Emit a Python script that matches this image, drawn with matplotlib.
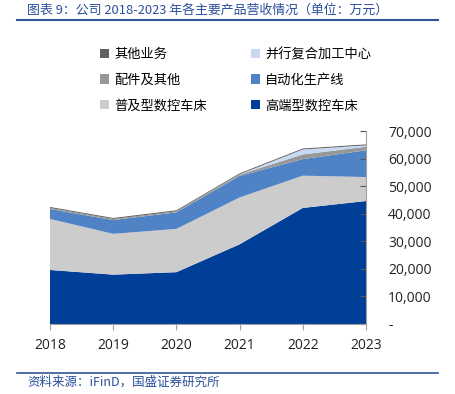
import matplotlib.pyplot as plt
from matplotlib.patches import Patch
from matplotlib.lines import Line2D

plt.rcParams['font.family'] = ['Noto Sans CJK SC', 'DejaVu Sans']

years = ['2018', '2019', '2020', '2021', '2022', '2023']
high_end = [19600, 17900, 18800, 28900, 42100, 44600]
standard = [18500, 14800, 15700, 17000, 11700, 8700]
automation = [3600, 5000, 6000, 7800, 6000, 9700]
parts = [400, 400, 400, 500, 1700, 1300]
compound = [0, 0, 0, 100, 1800, 500]
other = [350, 350, 350, 350, 350, 350]

names = ['高端型数控车床', '普及型数控车床', '自动化生产线',
         '配件及其他', '并行复合加工中心', '其他业务']
colors = ['#003F97', '#CCCCCC', '#4F83C6', '#989898', '#C6D9F0', '#606060']

fig = plt.figure(figsize=(4.56, 3.94), dpi=100)
ax = fig.add_axes([50 / 456, 1 - 324 / 394, 316 / 456, 193 / 394])

x = list(range(len(years)))
ax.stackplot(x, high_end, standard, automation, parts, compound, other,
             colors=colors, linewidth=0)

ax.set_xlim(0, len(years) - 1)
ax.set_ylim(0, 70000)
ax.set_xticks(x)
ax.set_xticklabels(years)
yt = list(range(0, 70001, 10000))
ax.set_yticks(yt)
ax.set_yticklabels(['-'] + [f'{v:,}' for v in yt[1:]])

ax.yaxis.tick_right()
for s in ['top', 'left']:
    ax.spines[s].set_visible(False)
for s in ['bottom', 'right']:
    ax.spines[s].set_color('#A0A0A0')
    ax.spines[s].set_linewidth(0.8)
ax.tick_params(axis='x', direction='out', length=4, color='#A0A0A0',
               labelsize=10, pad=6, labelcolor='#222222')
ax.tick_params(axis='y', direction='in', length=4, color='#555555',
               labelsize=10, pad=16, labelcolor='#222222')
for lab in ax.get_xticklabels() + ax.get_yticklabels():
    lab.set_fontfamily(['Open Sans', 'DejaVu Sans'])
for lab in ax.get_yticklabels():
    lab.set_horizontalalignment('left')

handles = [Patch(facecolor=c, edgecolor='none') for c in colors]
order = [5, 3, 1, 4, 2, 0]
fig.legend([handles[i] for i in order], [names[i] for i in order],
           ncol=2, loc='upper left', bbox_to_anchor=(88 / 456, 1 - 36 / 394),
           frameon=False, fontsize=9.5, handlelength=0.7, handleheight=0.7,
           handletextpad=0.4, columnspacing=3.3, labelspacing=0.95)

blue = '#2A4E9C'
fig.text(27 / 456, 1 - 10 / 394, '图表 9：公司 2018-2023 年各主要产品营收情况（单位：万元）',
         color=blue, fontsize=9.3, ha='left', va='center', style='italic')
fig.add_artist(Line2D([17 / 456, 438 / 456], [1 - 19.5 / 394] * 2,
                      color='#2F5597', linewidth=1.5))
fig.add_artist(Line2D([17 / 456, 438 / 456], [1 - 372.5 / 394] * 2,
                      color='#2F5597', linewidth=1.2))
fig.text(27 / 456, 1 - 382 / 394, '资料来源：iFinD，国盛证券研究所',
         color=blue, fontsize=9, ha='left', va='center', style='italic')

fig.savefig('out.png', dpi=100)
